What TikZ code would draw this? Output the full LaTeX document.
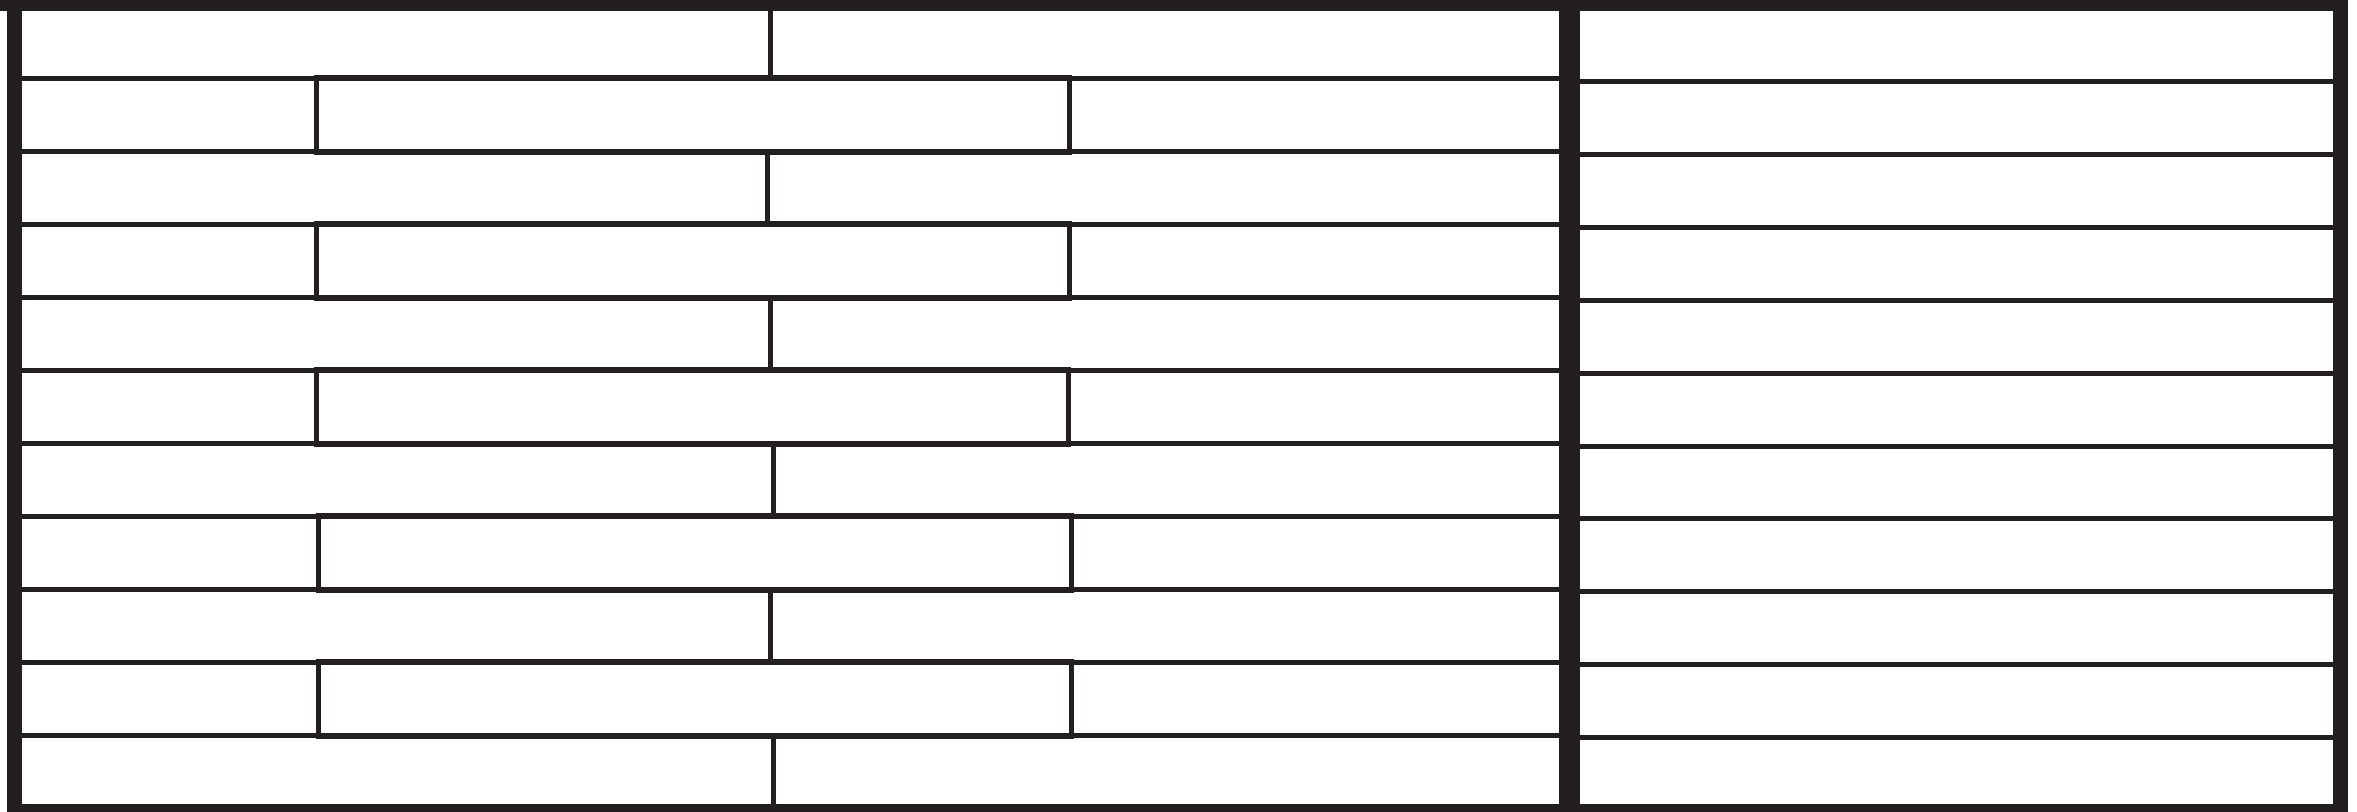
\documentclass[tikz,border=0pt]{standalone}
\usepackage{tikz}
\definecolor{ink}{HTML}{231F20}

\begin{document}
\begin{tikzpicture}[
    x=0.01cm, y=-0.01cm,
    joint/.style={draw=ink, line width=0.5mm},
    wallbar/.style={fill=ink}
]
\useasboundingbox (0,0) rectangle (2357,812);

% left panel: staggered courses
\foreach \k in {0,...,9}
  \draw[joint] (22,{78.5+73*\k}) -- (1559,{78.5+73*\k});
\foreach \r/\xm in {1/770.2,3/767,5/770.6,7/773,9/770.6,11/773}
  \draw[joint] (\xm,{5.5+73*(\r-1)}) -- (\xm,{5.5+73*\r});
\foreach \r/\xa/\xb in {2/316.5/1069,4/316.5/1069,6/316.6/1068.7,8/318/1071,10/318/1071}
  \draw[joint] (\xa,{5.5+73*(\r-1)-0.6}) rectangle (\xb,{5.5+73*\r+0.6});

% right panel: plain courses
\foreach \k in {0,...,9}
  \draw[joint] (1580,{81.5+72.9*\k}) -- (2333,{81.5+72.9*\k});

% frame and divider
\fill[wallbar] (0,0) rectangle (2348,10.5);
\fill[wallbar] (7,0) rectangle (22,812);
\fill[wallbar] (2333,0) rectangle (2348,812);
\fill[wallbar] (7,804) rectangle (2348,812);
\fill[wallbar] (1559,0) rectangle (1580,812);
\end{tikzpicture}
\end{document}
